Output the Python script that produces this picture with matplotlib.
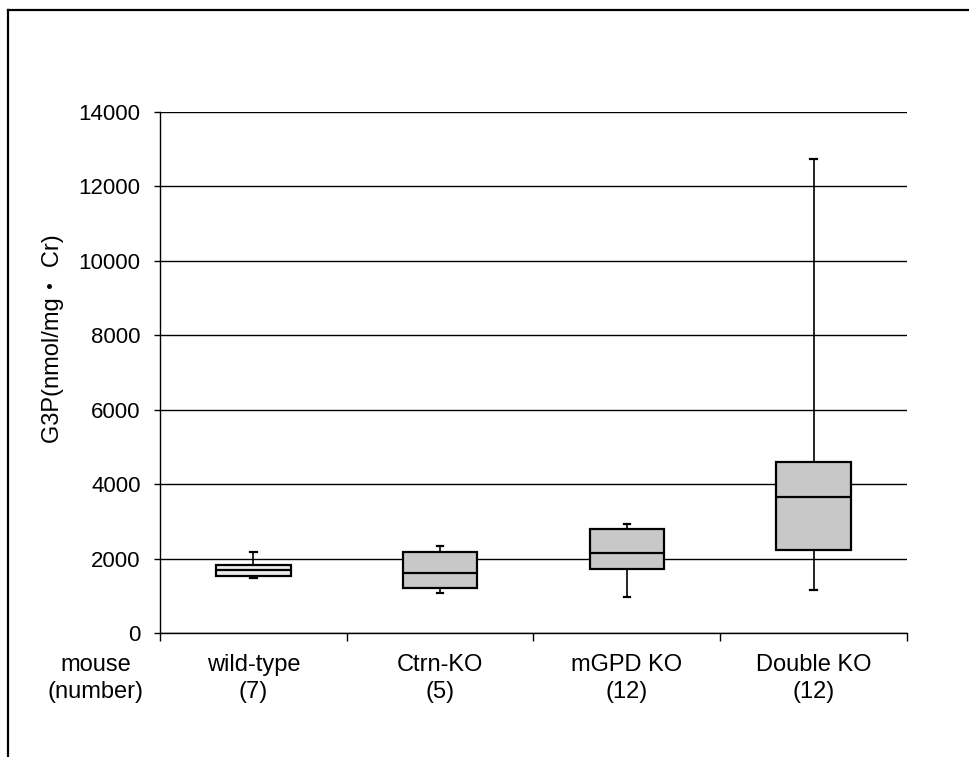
import matplotlib
matplotlib.use("Agg")
import matplotlib.pyplot as plt
from matplotlib.lines import Line2D

plt.rcParams['font.family'] = ['Liberation Sans', 'Noto Sans CJK JP', 'DejaVu Sans']

categories = ["wild-type", "Ctrn-KO", "mGPD KO", "Double KO"]
counts = ["(7)", "(5)", "(12)", "(12)"]
whisker_low = [1475, 1080, 970, 1165]
q1 = [1535, 1218, 1720, 2220]
median = [1690, 1600, 2155, 3655]
q3 = [1840, 2168, 2800, 4600]
whisker_high = [2190, 2340, 2930, 12730]
box_colors = ["#ebebeb", "#c8c8c8", "#c8c8c8", "#c8c8c8"]
yticks = [0, 2000, 4000, 6000, 8000, 10000, 12000, 14000]

W, H = 970, 757
fig = plt.figure(figsize=(W / 100, H / 100), dpi=100)
ax_bottom, ax_top = 633, 112
ax = fig.add_axes([160 / W, 1 - ax_bottom / H, (907 - 160) / W, (ax_bottom - ax_top) / H])

stats = []
for i in range(len(categories)):
    stats.append(dict(med=median[i], q1=q1[i], q3=q3[i],
                      whislo=whisker_low[i], whishi=whisker_high[i],
                      fliers=[], label=categories[i]))
positions = [i + 0.5 for i in range(len(categories))]
bp = ax.bxp(stats, positions=positions, widths=0.4, patch_artist=True,
            showfliers=False, capwidths=0.035,
            boxprops=dict(edgecolor='black', linewidth=1.6),
            medianprops=dict(color='black', linewidth=1.6),
            whiskerprops=dict(color='black', linewidth=1.2),
            capprops=dict(color='black', linewidth=1.6), zorder=3)
for patch, c in zip(bp['boxes'], box_colors):
    patch.set_facecolor(c)

ax.set_xlim(0, len(categories))
ax.set_ylim(0, 14000)
ax.set_yticks(yticks)
ax.set_yticklabels([str(v) for v in yticks], fontsize=16)
ax.set_xticks(range(len(categories) + 1))
ax.set_xticklabels([])
ax.yaxis.grid(True, color='black', linewidth=1.0)
ax.set_axisbelow(True)
ax.tick_params(axis='y', length=4, width=1, pad=10, direction='out')
ax.tick_params(axis='x', length=6, width=1, direction='out')
for s in ['top', 'right']:
    ax.spines[s].set_visible(False)
ax.spines['left'].set_linewidth(1.0)
ax.spines['bottom'].set_linewidth(1.0)

row1 = -(665 - ax_bottom) / (ax_bottom - ax_top)
row2 = -(692 - ax_bottom) / (ax_bottom - ax_top)
xt = ax.get_xaxis_transform()
for i, (c, n) in enumerate(zip(categories, counts)):
    ax.text(positions[i], row1, c, transform=xt, ha='center', va='center', fontsize=17)
    ax.text(positions[i], row2, n, transform=xt, ha='center', va='center', fontsize=17)

fig.text(96 / W, 1 - 665 / H, "mouse", ha='center', va='center', fontsize=17)
fig.text(96 / W, 1 - 692 / H, "(number)", ha='center', va='center', fontsize=17)

fig.text(53 / W, 1 - 339 / H, "G3P(nmol/mg\u30fb Cr)", rotation=90,
         ha='center', va='center', fontsize=17)

# outer frame (left and top)
fig.add_artist(Line2D([8 / W, 8 / W], [0, 1 - 10 / H], color='black', linewidth=1.6,
                      transform=fig.transFigure))
fig.add_artist(Line2D([8 / W, 1], [1 - 10 / H, 1 - 10 / H], color='black', linewidth=1.6,
                      transform=fig.transFigure))

fig.savefig("out.png", dpi=100)
